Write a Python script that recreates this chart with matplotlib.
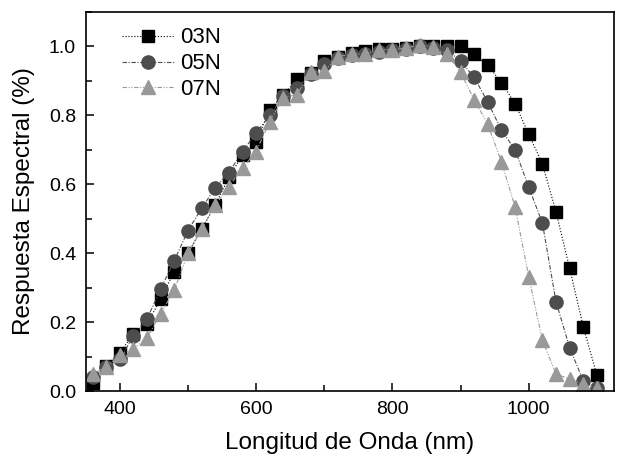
import matplotlib
matplotlib.use("Agg")
import matplotlib.pyplot as plt
from matplotlib.ticker import MultipleLocator

plt.rcParams['font.family'] = ['Liberation Sans', 'DejaVu Sans']

wavelength = list(range(360, 1101, 20))

r03N = [0.024, 0.073, 0.112, 0.166, 0.195, 0.268, 0.347, 0.400, 0.470, 0.540,
        0.620, 0.685, 0.724, 0.816, 0.860, 0.904, 0.924, 0.957, 0.970, 0.980,
        0.988, 0.991, 0.993, 0.996, 1.000, 1.000, 1.000, 1.000, 0.977, 0.945,
        0.895, 0.834, 0.745, 0.660, 0.520, 0.357, 0.187, 0.047]

r05N = [0.040, 0.070, 0.093, 0.160, 0.210, 0.297, 0.379, 0.466, 0.530, 0.590,
        0.634, 0.695, 0.749, 0.800, 0.855, 0.880, 0.920, 0.950, 0.965, 0.975,
        0.978, 0.985, 0.990, 0.993, 1.000, 0.995, 0.990, 0.957, 0.910, 0.838,
        0.757, 0.700, 0.592, 0.488, 0.260, 0.126, 0.030, 0.010]

r07N = [0.050, 0.070, 0.105, 0.123, 0.155, 0.225, 0.294, 0.400, 0.470, 0.540,
        0.593, 0.647, 0.695, 0.782, 0.851, 0.860, 0.925, 0.928, 0.970, 0.978,
        0.978, 0.990, 0.990, 0.995, 1.005, 0.997, 0.977, 0.925, 0.845, 0.774,
        0.665, 0.534, 0.332, 0.148, 0.050, 0.035, 0.020, 0.008]

labels = ['03N', '05N', '07N']

fig = plt.figure(figsize=(6.17, 4.57), dpi=100)
ax = fig.add_axes([0.139, 0.144, 0.856, 0.830])

ax.plot(wavelength, r03N, linestyle=':', color='black', lw=0.8,
        marker='s', markersize=8.5, markerfacecolor='black', markeredgecolor='black',
        label=labels[0])
ax.plot(wavelength, r05N, linestyle='-.', color='#4d4d4d', lw=0.8,
        marker='o', markersize=9.5, markerfacecolor='#4d4d4d', markeredgecolor='#4d4d4d',
        label=labels[1], dashes=(4, 1.5, 1, 1.5))
ax.plot(wavelength, r07N, linestyle='-.', color='#999999', lw=0.8,
        marker='^', markersize=10, markerfacecolor='#999999', markeredgecolor='#999999',
        label=labels[2], dashes=(4, 1.5, 1, 1.5, 1, 1.5))

ax.set_xlim(350, 1125)
ax.set_ylim(0, 1.1)
ax.xaxis.set_major_locator(MultipleLocator(200))
ax.xaxis.set_minor_locator(MultipleLocator(100))
ax.yaxis.set_major_locator(MultipleLocator(0.2))
ax.yaxis.set_minor_locator(MultipleLocator(0.1))
ax.yaxis.set_major_formatter(matplotlib.ticker.FormatStrFormatter('%.1f'))

ax.tick_params(which='major', direction='in', length=6, width=1.1, labelsize=14, pad=7)
ax.tick_params(which='minor', direction='in', length=4, width=1.1)
for s in ax.spines.values():
    s.set_linewidth(1.2)

ax.set_xlabel('Longitud de Onda (nm)', fontsize=17.5, labelpad=10)
ax.set_ylabel('Respuesta Espectral (%)', fontsize=17.5, labelpad=10)

ax.legend(loc='upper left', frameon=False, fontsize=16, handlelength=2.3,
          labelspacing=0.22, borderaxespad=0.3, handletextpad=0.3,
          bbox_to_anchor=(0.04, 1.0))

fig.savefig('out.png', dpi=100)
